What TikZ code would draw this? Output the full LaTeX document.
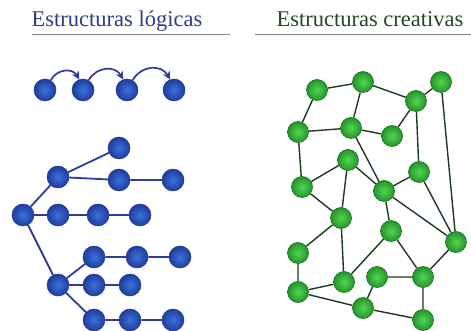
\documentclass[tikz,border=0pt]{standalone}
\usepackage{fontspec}
\setmainfont{Liberation Serif}
\usetikzlibrary{arrows.meta,backgrounds}
\definecolor{bin}{HTML}{3D72DA}
\definecolor{bout}{HTML}{1F3C9E}
\definecolor{bedge}{HTML}{1E3590}
\definecolor{bline}{HTML}{2E3A9E}
\definecolor{gin}{HTML}{55D455}
\definecolor{gout}{HTML}{22962A}
\definecolor{gedge}{HTML}{1F6A1F}
\definecolor{gline}{HTML}{1C3A1C}
\definecolor{btitle}{HTML}{2E3A8C}
\definecolor{gtitle}{HTML}{1F4A1F}
\definecolor{rulec}{HTML}{8A8A8A}
\tikzset{
  bn/.style={circle, minimum size=22pt, inner sep=0pt, shading=radial, inner color=bin, outer color=bout, draw=bedge, line width=0.5pt},
  gn/.style={circle, minimum size=21pt, inner sep=0pt, shading=radial, inner color=gin, outer color=gout, draw=gedge, line width=0.6pt},
  bl/.style={draw=bline, line width=1.8pt},
  gl/.style={draw=gline, line width=1.4pt},
  barrow/.style={draw=bline, line width=1.7pt, -{Stealth[length=8pt,width=8pt]}},
  title/.style={font=\fontsize{22.5}{24}\selectfont, anchor=base},
  rulel/.style={draw=rulec, line width=0.8pt}
}
\begin{document}
\begin{tikzpicture}[x=1pt,y=-1pt]
\useasboundingbox (0,0) rectangle (471,331);
% titles
\node[title, text=btitle] (t1) at (117,27) {Estructuras lógicas};
\node[title, text=gtitle] (t2) at (370,27) {Estructuras creativas};
\coordinate (r1a) at (32,34); \coordinate (r1b) at (230,34);
\coordinate (r2a) at (255,34); \coordinate (r2b) at (471,34);
\draw[rulel] (r1a) -- (r1b);
\draw[rulel] (r2a) -- (r2b);
% chain
\node[bn] (c1) at (45,90) {};
\node[bn] (c2) at (83,90) {};
\node[bn] (c3) at (127,90) {};
\node[bn] (c4) at (174,90) {};
\draw[barrow] (c1.60) to[out=60,in=120,looseness=1.2] (c2.110);
\draw[barrow] (c2.60) to[out=60,in=120,looseness=1.2] (c3.110);
\draw[barrow] (c3.60) to[out=60,in=120,looseness=1.2] (c4.110);
% tree
\node[bn] (root) at (23,215) {};
\node[bn] (b1) at (58,177) {};
\node[bn] (btop) at (119,148) {};
\node[bn] (b1a) at (119,180) {};
\node[bn] (b1b) at (173,180) {};
\node[bn] (r1) at (58,215) {};
\node[bn] (r2) at (98,215) {};
\node[bn] (r3) at (140,215) {};
\node[bn] (b2) at (58,285) {};
\node[bn] (b2a) at (94,257) {};
\node[bn] (b2b) at (137,257) {};
\node[bn] (b2c) at (180,257) {};
\node[bn] (b2d) at (94,285) {};
\node[bn] (b2e) at (130,285) {};
\node[bn] (b2f) at (94,320) {};
\node[bn] (b2g) at (130,320) {};
\node[bn] (b2h) at (173,320) {};
% green network
\node[gn] (g1) at (317,90) {};
\node[gn] (g2) at (363,82) {};
\node[gn] (g3) at (441,82) {};
\node[gn] (g4) at (416,101) {};
\node[gn] (g5) at (298,132) {};
\node[gn] (g6) at (351,128) {};
\node[gn] (g7) at (392,136) {};
\node[gn] (g8) at (348,160) {};
\node[gn] (g9) at (419,172) {};
\node[gn] (g10) at (302,187) {};
\node[gn] (g11) at (384,191) {};
\node[gn] (g12) at (341,218) {};
\node[gn] (g13) at (391,231) {};
\node[gn] (g14) at (456,242) {};
\node[gn] (g15) at (298,253) {};
\node[gn] (g16) at (344,282) {};
\node[gn] (g17) at (377,277) {};
\node[gn] (g18) at (423,277) {};
\node[gn] (g19) at (298,292) {};
\node[gn] (g20) at (363,308) {};
\node[gn] (g21) at (423,320) {};
\begin{scope}[on background layer]
\draw[bl] (root) -- (b1) -- (btop);
\draw[bl] (b1) -- (b1a) -- (b1b);
\draw[bl] (root) -- (r1) -- (r2) -- (r3);
\draw[bl] (root) -- (b2);
\draw[bl] (b2) -- (b2a) -- (b2b) -- (b2c);
\draw[bl] (b2) -- (b2d) -- (b2e);
\draw[bl] (b2) -- (b2f) -- (b2g) -- (b2h);
\draw[gl] (g1) -- (g2) -- (g4) -- (g3) -- (g14);
\draw[gl] (g1) -- (g5) -- (g6) -- (g7) -- (g4) -- (g9);
\draw[gl] (g2) -- (g6) -- (g11);
\draw[gl] (g5) -- (g10) -- (g8) -- (g11) -- (g9) -- (g14);
\draw[gl] (g8) -- (g12);
\draw[gl] (g10) -- (g12) -- (g15);
\draw[gl] (g12) -- (g16);
\draw[gl] (g11) -- (g13) -- (g16);
\draw[gl] (g11) -- (g14);
\draw[gl] (g13) -- (g18) -- (g14);
\draw[gl] (g15) -- (g19) -- (g16);
\draw[gl] (g19) -- (g20) -- (g17) -- (g18) -- (g21) -- (g20);
\end{scope}
\end{tikzpicture}
\end{document}
